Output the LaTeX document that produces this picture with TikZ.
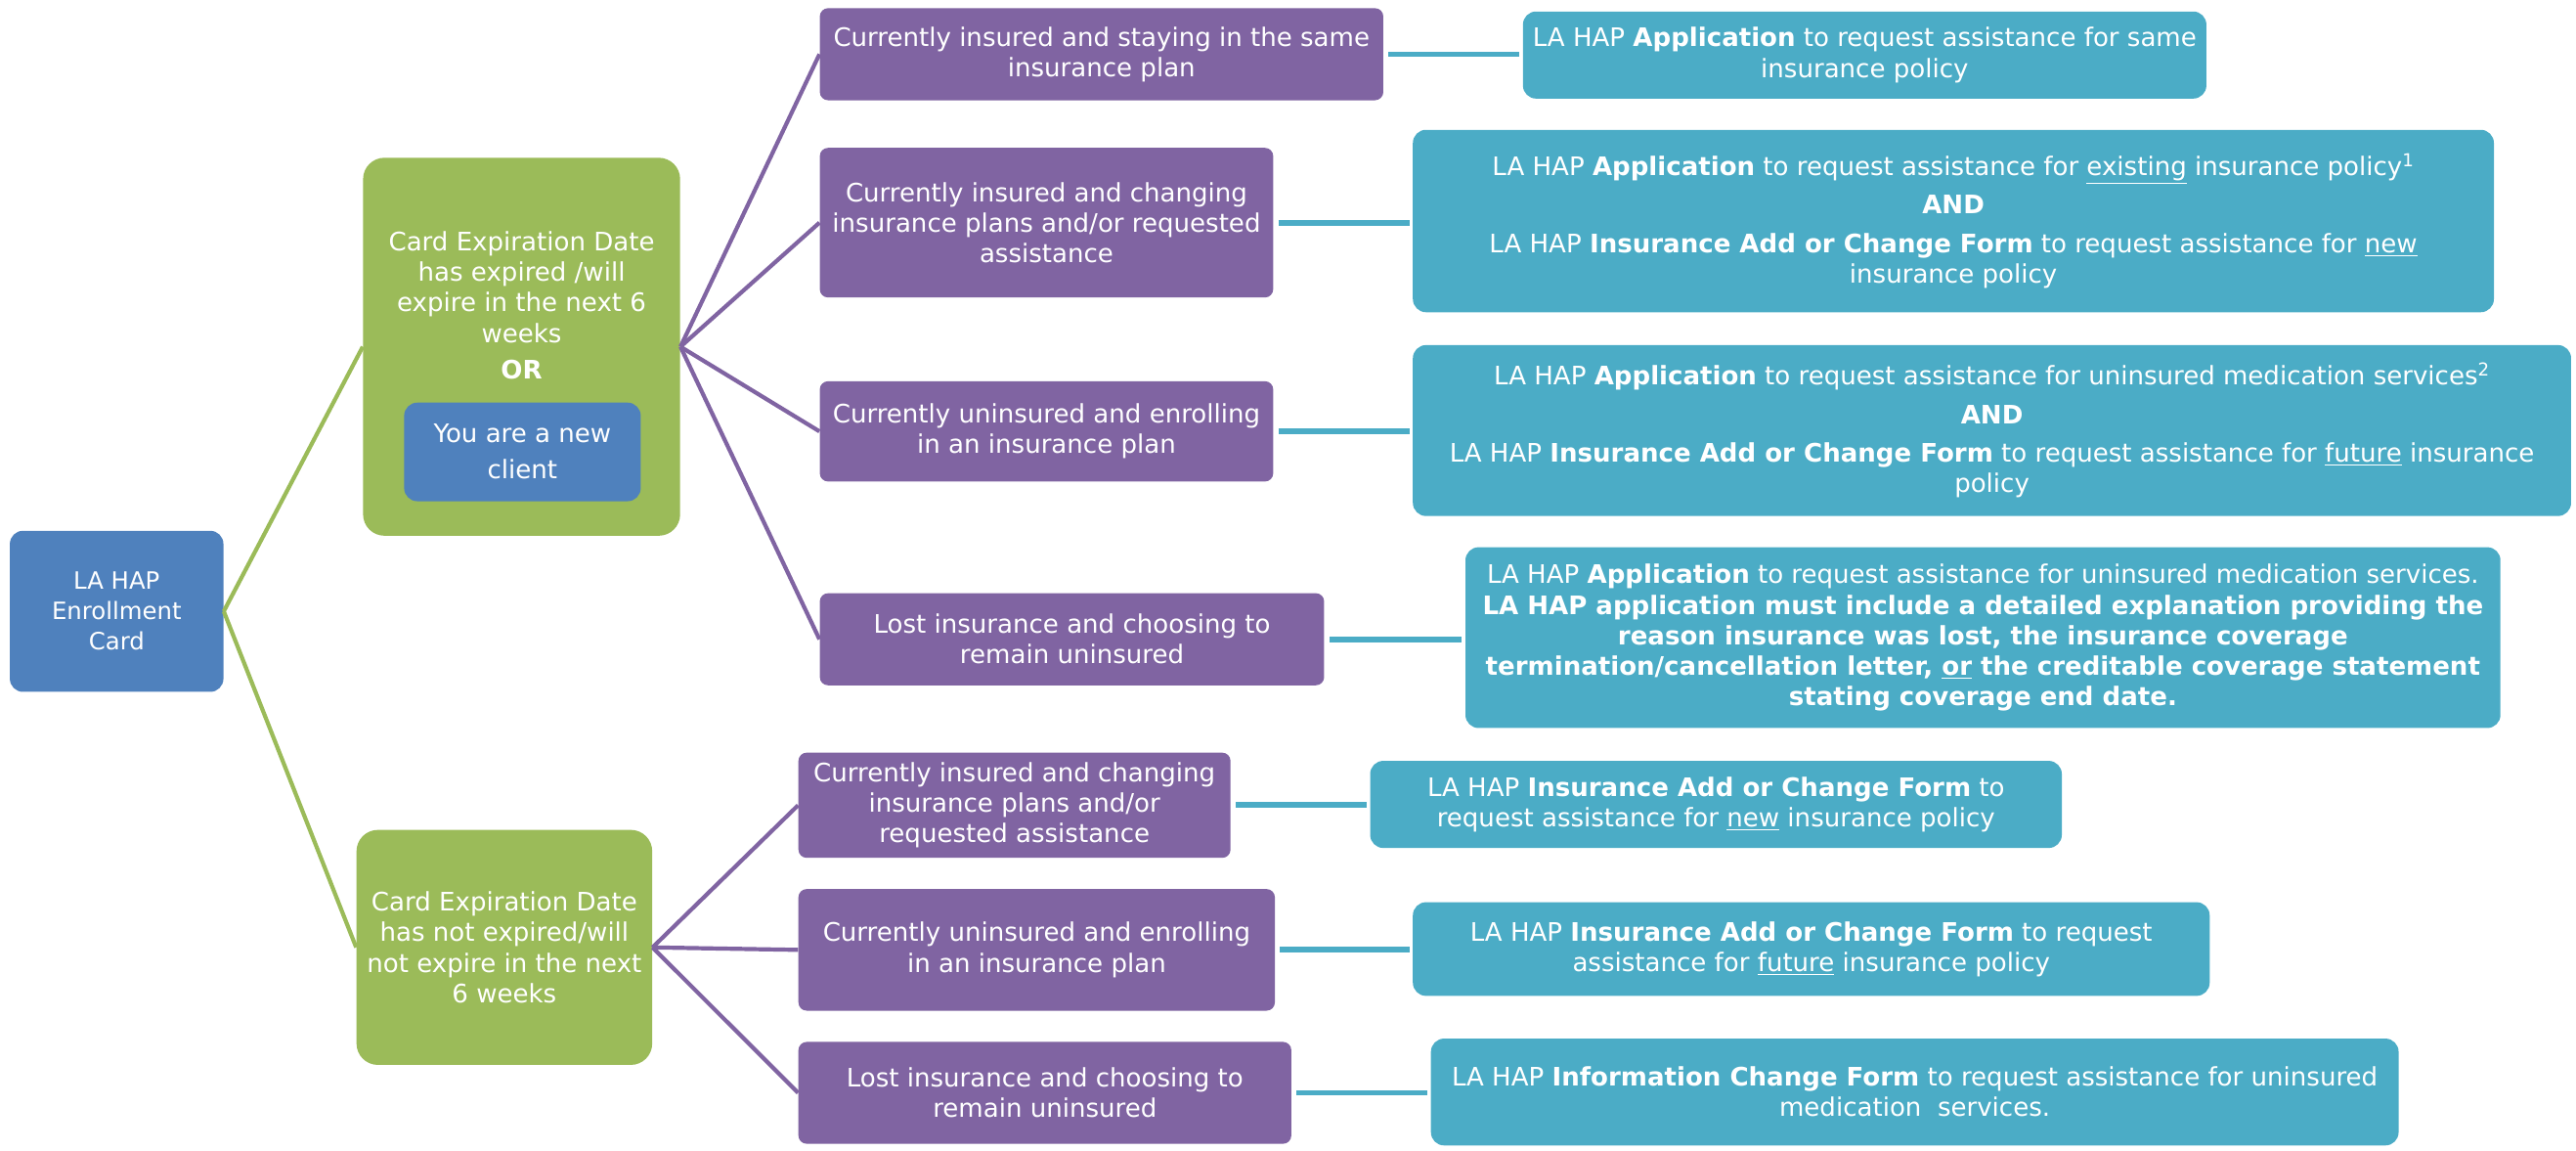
\documentclass[tikz,border=0pt]{standalone}
\usepackage{fontspec}
\setmainfont{DejaVu Sans}
\usepackage{xcolor}
\usepackage{tikz}
\usetikzlibrary{positioning}
\definecolor{hapblue}{HTML}{4F81BD}
\definecolor{hapgreen}{HTML}{9BBB59}
\definecolor{happurple}{HTML}{8064A2}
\definecolor{hapteal}{HTML}{4BACC6}
\tikzstyle{card} = [rectangle, rounded corners=8pt, fill=hapblue, text=white,
    align=center, inner sep=0pt]
\tikzstyle{cond} = [rectangle, rounded corners=13pt, fill=hapgreen, text=white,
    align=center, inner sep=0pt]
\tikzstyle{status} = [rectangle, rounded corners=5pt, fill=happurple, text=white,
    align=center, inner sep=0pt]
\tikzstyle{form} = [rectangle, rounded corners=8pt, fill=hapteal, text=white,
    align=center, inner sep=0pt]
\tikzstyle{glink} = [draw=hapgreen, line width=2.5pt]
\tikzstyle{plink} = [draw=happurple, line width=2.5pt]
\tikzstyle{tlink} = [draw=hapteal, line width=3.5pt, shorten <=3pt, shorten >=2pt]

\begin{document}
\begin{tikzpicture}[x=1pt,y=-1pt,font=\fontsize{15.5}{18.5}\selectfont]
    \useasboundingbox (0,0) rectangle (1568,700);
    % Place nodes
    \node [card, minimum width=130pt, minimum height=98pt,
        font=\fontsize{14.5}{18.5}\selectfont] (card) at (71,372)
        {LA HAP\\Enrollment\\Card};
    \node [cond, minimum width=193pt, minimum height=230pt] (expired) at (317.5,211) {};
    \node [text=white, align=center] (expiredtxt) at (317.5,186)
        {Card Expiration Date\\has expired /will\\expire in the next 6\\weeks\\[4pt]\textbf{OR}};
    \node [card, minimum width=144pt, minimum height=60pt,
        font=\fontsize{15.5}{22}\selectfont] (newclient) at (318,275) {You are a new\\client};
    \node [cond, minimum width=180pt, minimum height=143pt] (valid) at (307,576.5)
        {Card Expiration Date\\has not expired/will\\not expire in the next\\6 weeks};
    % first branch
    \node [status, minimum width=343pt, minimum height=56pt] (same) at (670.5,33)
        {Currently insured and staying in the same\\insurance plan};
    \node [status, minimum width=276pt, minimum height=91pt] (change) at (637,135.5)
        {Currently insured and changing\\insurance plans and/or requested\\assistance};
    \node [status, minimum width=276pt, minimum height=61pt] (enroll) at (637,262.5)
        {Currently uninsured and enrolling\\in an insurance plan};
    \node [status, minimum width=307pt, minimum height=56pt] (lost) at (652.5,389)
        {Lost insurance and choosing to\\remain uninsured};
    \node [form, minimum width=416pt, minimum height=53pt] (sameform) at (1135,33.5)
        {LA HAP \textbf{Application} to request assistance for same\\insurance policy};
    \node [form, minimum width=658pt, minimum height=111pt] (changeform) at (1189,134.5)
        {LA HAP \textbf{Application} to request assistance for \underline{existing} insurance policy\textsuperscript{1}\\[5pt]
         \textbf{AND}\\[5pt]
         LA HAP \textbf{Insurance Add or Change Form} to request assistance for \underline{new}\\insurance policy};
    \node [form, minimum width=705pt, minimum height=104pt] (enrollform) at (1212.5,262)
        {LA HAP \textbf{Application} to request assistance for uninsured medication services\textsuperscript{2}\\[5pt]
         \textbf{AND}\\[5pt]
         LA HAP \textbf{Insurance Add or Change Form} to request assistance for \underline{future} insurance\\policy};
    \node [form, minimum width=630pt, minimum height=110pt] (lostform) at (1207,388)
        {LA HAP \textbf{Application} to request assistance for uninsured medication services.\\
         \textbf{LA HAP application must include a detailed explanation providing the}\\
         \textbf{reason insurance was lost, the insurance coverage}\\
         \textbf{termination/cancellation letter, \underline{or} the creditable coverage statement}\\
         \textbf{stating coverage end date.}};
    % second branch
    \node [status, minimum width=263pt, minimum height=64pt] (change2) at (617.5,490)
        {Currently insured and changing\\insurance plans and/or\\requested assistance};
    \node [status, minimum width=290pt, minimum height=74pt] (enroll2) at (631,578)
        {Currently uninsured and enrolling\\in an insurance plan};
    \node [status, minimum width=300pt, minimum height=62pt] (lost2) at (636,665)
        {Lost insurance and choosing to\\remain uninsured};
    \node [form, minimum width=421pt, minimum height=53pt] (change2form) at (1044.5,489.5)
        {LA HAP \textbf{Insurance Add or Change Form} to\\request assistance for \underline{new} insurance policy};
    \node [form, minimum width=485pt, minimum height=57pt] (enroll2form) at (1102.5,577.5)
        {LA HAP \textbf{Insurance Add or Change Form} to request\\assistance for \underline{future} insurance policy};
    \node [form, minimum width=589pt, minimum height=65pt] (lost2form) at (1165.5,664.5)
        {LA HAP \textbf{Information Change Form} to request assistance for uninsured\\medication\ \ services.};
    % Draw edges
    \path [glink] (card.east) -- (expired.west);
    \path [glink] (card.east) -- (valid.west);
    \foreach \s in {same,change,enroll,lost}
        \path [plink] (expired.east) -- (\s.west);
    \foreach \s in {change2,enroll2,lost2}
        \path [plink] (valid.east) -- (\s.west);
    \foreach \s in {same,change,enroll,lost,change2,enroll2,lost2}
        \path [tlink] (\s.east) -- (\s.east -| \s form.west);
\end{tikzpicture}
\end{document}
